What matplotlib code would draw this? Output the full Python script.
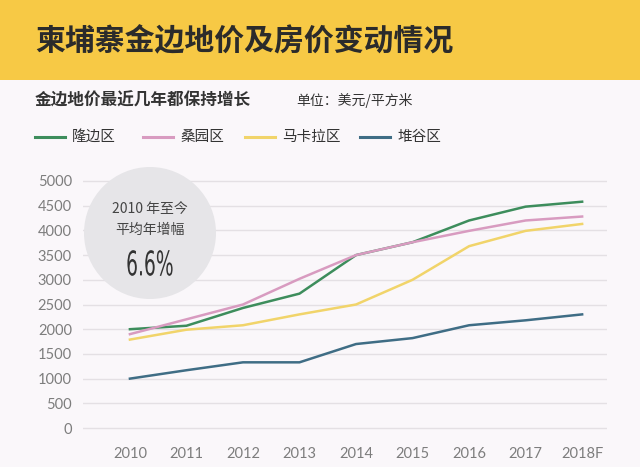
import matplotlib
matplotlib.use("Agg")
import matplotlib.pyplot as plt
from matplotlib.patches import Rectangle, Ellipse, PathPatch
from matplotlib.textpath import TextPath
from matplotlib.font_manager import FontProperties
from matplotlib.transforms import Affine2D

plt.rcParams['font.family'] = ['Noto Sans CJK SC', 'DejaVu Sans']

years = ["2010", "2011", "2012", "2013", "2014", "2015", "2016", "2017", "2018F"]
names = ["隆边区", "桑园区", "马卡拉区", "堆谷区"]
longbian = [2000, 2070, 2430, 2720, 3500, 3760, 4200, 4480, 4580]
sangyuan = [1900, 2200, 2500, 3020, 3500, 3760, 3990, 4200, 4280]
makala = [1790, 1990, 2080, 2300, 2500, 3000, 3680, 3990, 4130]
duigu = [1000, 1170, 1330, 1330, 1700, 1820, 2080, 2180, 2300]
yticks = [0, 500, 1000, 1500, 2000, 2500, 3000, 3500, 4000, 4500, 5000]

colors = ["#3d8d5c", "#d89bc0", "#f1d46a", "#3f6d85"]
series = [longbian, sangyuan, makala, duigu]

fig = plt.figure(figsize=(6.4, 4.67), dpi=100)
fig.patch.set_facecolor("#faf7fa")

# header band
fig.add_artist(Rectangle((0, 1 - 80 / 467), 1, 80 / 467, transform=fig.transFigure,
                         facecolor="#f7c945", edgecolor="none", zorder=0))
fig.text(35 / 640, 1 - 41 / 467, "柬埔寨金边地价及房价变动情况", fontsize=21.5,
         fontweight="bold", color="#2b2b2b", va="center", ha="left")
fig.text(35 / 640, 1 - 101 / 467, "金边地价最近几年都保持增长", fontsize=12,
         fontweight="bold", color="#333333", va="center", ha="left")
fig.text(296 / 640, 1 - 101 / 467, "单位：美元/平方米", fontsize=10,
         color="#333333", va="center", ha="left")

# legend row
leg_x = [35, 143, 245, 360]
for i in range(4):
    y = 1 - 137 / 467
    fig.add_artist(plt.Line2D([leg_x[i] / 640, (leg_x[i] + 30) / 640], [y, y],
                              transform=fig.transFigure, color=colors[i], lw=2.2))
    fig.text((leg_x[i] + 37) / 640, y, names[i], fontsize=10.5, color="#333333",
             va="center", ha="left")

ax = fig.add_axes([83 / 640, 1 - 433 / 467, 524 / 640, 257 / 467])
ax.set_facecolor("none")
x = list(range(len(years)))
for s, c in zip(series, colors):
    ax.plot(x, s, color=c, lw=1.8, zorder=3)

ax.set_xlim(-0.83, 8.44)
ax.set_ylim(-100, 5100)
ax.set_yticks(yticks)
ax.set_yticklabels([str(v) for v in yticks], fontsize=10.5, color="#7d7d7d",
                   family=["Lato", "DejaVu Sans"])
ax.set_xticks(x)
ax.set_xticklabels(years, fontsize=10.5, color="#7d7d7d", family=["Lato", "DejaVu Sans"])
ax.tick_params(length=0)
ax.tick_params(axis="y", pad=8)
ax.tick_params(axis="x", pad=10)
for sp in ax.spines.values():
    sp.set_visible(False)
for v in yticks:
    ax.axhline(v, color="#e4e0e4", lw=1, zorder=1)

# circle badge
fig.add_artist(Ellipse((150 / 640, 1 - 233 / 467), 132 / 640, 132 / 467,
                       transform=fig.transFigure, facecolor="#e6e5e8",
                       edgecolor="none", zorder=2))
fig.text(150 / 640, 1 - 209 / 467, "2010 年至今", fontsize=10, color="#444444",
         ha="center", va="center", zorder=3)
fig.text(150 / 640, 1 - 230 / 467, "平均年增幅", fontsize=10, color="#444444",
         ha="center", va="center", zorder=3)

# condensed "6.6%" drawn as a squeezed text path, in pixel units
tp = TextPath((0, 0), "6.6%", size=34, prop=FontProperties(family="DejaVu Sans"))
bb = tp.get_extents()
tr = (Affine2D().translate(-(bb.x0 + bb.x1) / 2, -(bb.y0 + bb.y1) / 2)
      .scale(0.55, 1.0).translate(150, 467 - 263))
badge = PathPatch(tr.transform_path(tp), facecolor="#333333", edgecolor="none", zorder=3)
badge.set_transform(Affine2D())
fig.add_artist(badge)

fig.savefig("out.png", dpi=100, facecolor=fig.get_facecolor())
